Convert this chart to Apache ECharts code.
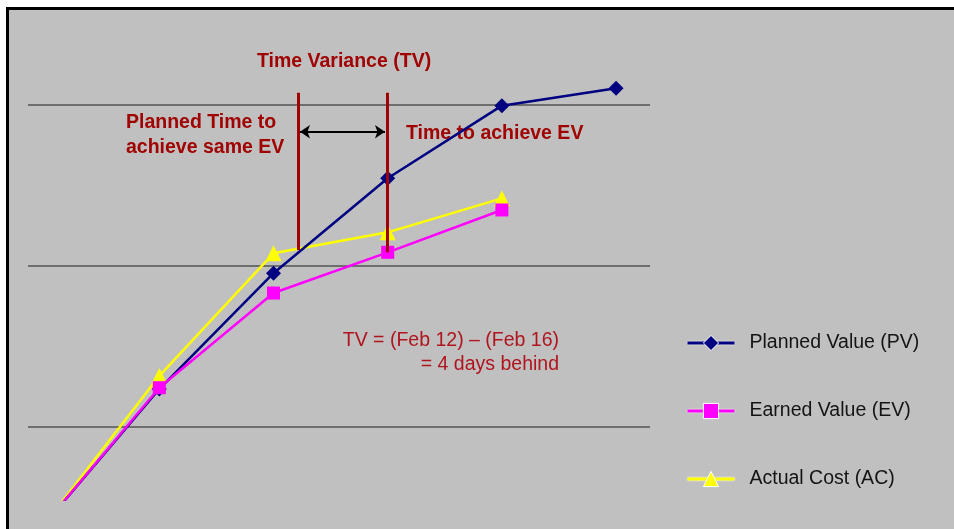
<!DOCTYPE html>
<html>
<head>
<meta charset="utf-8">
<script src="https://cdn.jsdelivr.net/npm/echarts@6/dist/echarts.min.js"></script>
<style>
  html, body { margin: 0; padding: 0; background: #ffffff; }
  #wrap { position: relative; width: 954px; height: 529px; overflow: hidden; }
  #bg { position: absolute; left: 6px; top: 7px; width: 948px; height: 522px; box-sizing: border-box;
        background: #C0C0C0; border-left: 3px solid #000; border-top: 3px solid #000; }
  #chart { position: absolute; left: 0; top: 0; width: 954px; height: 529px; }
</style>
</head>
<body>
<div id="wrap"><div id="bg"></div><div id="chart"></div></div>
<script>
// ---- data (x = period index, y = value) ----
const periods = [0, 1, 2, 3, 4, 5];
const pvValues = [40, 123.6, 195.5, 254.5, 299.6, 310.4];
const evValues = [40, 124.4, 183.2, 208.5, 234.8];
const acValues = [40, 131.7, 207.9, 220.9, 242.0];
const seriesNames = ['Planned Value (PV)', 'Earned Value (EV)', 'Actual Cost (AC)'];

// annotation positions in data units
const tvLineX = [2.221, 3];            // planned time for same EV, actual time
const tvLineTop = 307.6;
const tvLineBottom = [209.9, 208.5];
const tvArrowX = [2.232, 2.976];
const tvArrowY = 283.4;

function pairs(vals) { return vals.map((v, i) => [periods[i], v]); }

const chart = echarts.init(document.getElementById('chart'), null, { renderer: 'canvas' });
const darkRed = '#A00000';
const font = "'Liberation Sans', Arial, sans-serif";

chart.setOption({
  backgroundColor: 'transparent',
  animation: false,
  grid: { left: 28, right: 304, top: 40.6, bottom: 29.55, containLabel: false },
  xAxis: { type: 'value', min: -0.1497, max: 5.297, show: false },
  yAxis: {
    type: 'value', min: 55, max: 340, splitNumber: 3, minInterval: 100, maxInterval: 100,
    axisLine: { show: false }, axisTick: { show: false }, axisLabel: { show: false },
    splitLine: { show: true, showMinLine: false, showMaxLine: false,
                 lineStyle: { color: '#6E6E6E', width: 2 } }
  },
  legend: {
    data: seriesNames,
    orient: 'vertical', left: 681, top: 327,
    itemWidth: 47, itemHeight: 19, itemGap: 46,
    textStyle: { fontFamily: font, fontSize: 19.5, color: '#141414', padding: [0, 0, 0, 10], lineHeight: 22 },
    lineStyle: { width: 3, shadowColor: 'rgba(255,255,255,0.9)', shadowBlur: 2 },
    itemStyle: { borderColor: '#ffffff', borderWidth: 1 }
  },
  series: [
    {
      name: seriesNames[0], type: 'line', data: pairs(pvValues), z: 3,
      symbol: 'diamond', symbolSize: 15,
      lineStyle: { color: '#000080', width: 2.5 }, itemStyle: { color: '#000080' },
      markLine: {
        silent: true, symbol: 'none', label: { show: false },
        lineStyle: { color: darkRed, width: 3, type: 'solid' },
        data: tvLineX.map((x, i) => [{ coord: [x, tvLineTop] }, { coord: [x, tvLineBottom[i]] }])
      }
    },
    {
      name: seriesNames[2], type: 'line', data: pairs(acValues), z: 2,
      symbol: 'triangle', symbolSize: 16,
      lineStyle: { color: '#FFFF00', width: 2.5 }, itemStyle: { color: '#FFFF00' },
      markLine: {
        silent: true, symbol: ['arrow', 'arrow'], symbolSize: 10, label: { show: false },
        lineStyle: { color: '#000000', width: 2, type: 'solid' },
        data: [[{ coord: [tvArrowX[0], tvArrowY] }, { coord: [tvArrowX[1], tvArrowY] }]]
      }
    },
    {
      name: seriesNames[1], type: 'line', data: pairs(evValues), z: 4,
      symbol: 'rect', symbolSize: 13,
      lineStyle: { color: '#FF00FF', width: 2.5 }, itemStyle: { color: '#FF00FF' }
    }
  ],
  graphic: [
    { type: 'text', x: 257, y: 62, style: { text: 'Time Variance (TV)', fill: darkRed,
      font: "bold 19.5px " + font, verticalAlign: 'middle' } },
    { type: 'text', x: 126, y: 123, style: { text: 'Planned Time to', fill: darkRed,
      font: "bold 19.5px " + font, verticalAlign: 'middle' } },
    { type: 'text', x: 126, y: 147.5, style: { text: 'achieve same EV', fill: darkRed,
      font: "bold 19.5px " + font, verticalAlign: 'middle' } },
    { type: 'text', x: 406, y: 134, style: { text: 'Time to achieve EV', fill: darkRed,
      font: "bold 19.5px " + font, verticalAlign: 'middle' } },
    { type: 'text', x: 559, y: 341, style: { text: 'TV = (Feb 12) \u2013 (Feb 16)',
      fill: '#B0141E', font: "19.5px " + font, align: 'right', verticalAlign: 'middle' } },
    { type: 'text', x: 559, y: 364.5, style: { text: '= 4 days behind',
      fill: '#B0141E', font: "19.5px " + font, align: 'right', verticalAlign: 'middle' } }
  ]
});
</script>
</body>
</html>
